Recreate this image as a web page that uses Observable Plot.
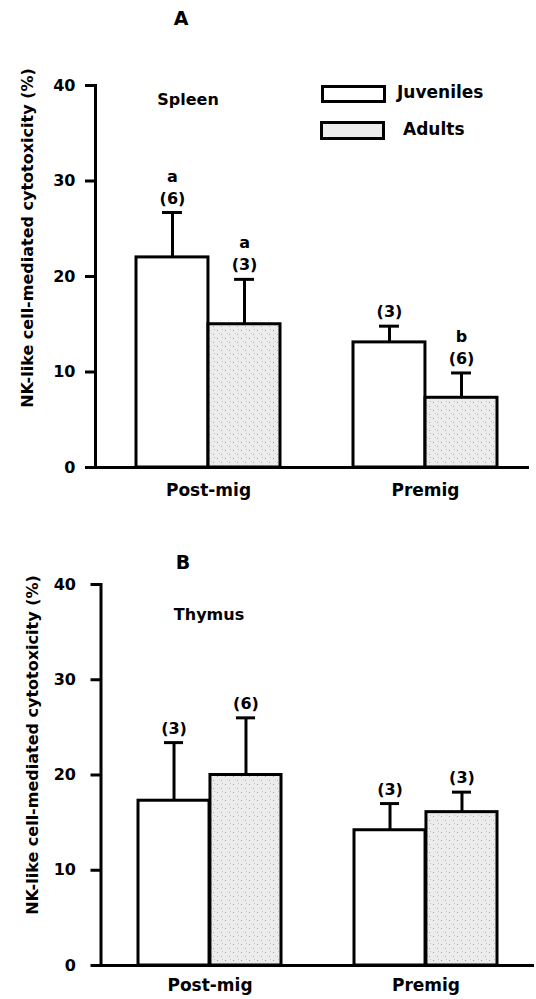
<!DOCTYPE html>
<html><head><meta charset="utf-8">
<script src="https://cdn.jsdelivr.net/npm/d3@7"></script>
<script src="https://cdn.jsdelivr.net/npm/@observablehq/plot@0.6"></script>
<style>
body{margin:0;background:#fff;font-family:"DejaVu Sans",Verdana,sans-serif;font-weight:bold;color:#000}
#wrap{position:relative;width:536px;height:999px;overflow:hidden;background:#fff}
#wrap svg{position:absolute;left:0}
.abs{position:absolute;white-space:nowrap;line-height:1}
.c{transform:translate(-50%,-50%)}
.ylab{font-size:16px;transform:translate(-50%,-50%) rotate(-90deg)}
.box{position:absolute;border:3px solid #000;box-sizing:border-box}
</style></head><body>
<svg width="0" height="0" style="position:absolute"><defs>
<pattern id="stipple" width="8" height="8" patternUnits="userSpaceOnUse">
<rect width="8" height="8" fill="#ececec"/>
<rect x="1" y="2" width="1" height="1" fill="#9a9a9a"/>
<rect x="5" y="6" width="1" height="1" fill="#b0b0b0"/>
<rect x="6" y="1" width="1" height="1" fill="#c4c4c4"/>
<rect x="3" y="5" width="1" height="1" fill="#d0d0d0"/>
</pattern></defs></svg>
<div id="wrap"></div>
<script>
// ---- data ----
const categories = ["Post-mig", "Premig"];
const series = ["Juveniles", "Adults"];
const yTicks = [0, 10, 20, 30, 40];

// Panel A: Spleen (mean and mean+SE)
const spleenJuvMean   = [22.0, 13.1];
const spleenJuvUpper  = [26.7, 14.8];
const spleenJuvN      = [6, 3];
const spleenJuvLetter = ["a", ""];
const spleenAdMean    = [15.0, 7.3];
const spleenAdUpper   = [19.7, 9.9];
const spleenAdN       = [3, 6];
const spleenAdLetter  = ["a", "b"];

// Panel B: Thymus
const thymusJuvMean   = [17.3, 14.2];
const thymusJuvUpper  = [23.4, 17.0];
const thymusJuvN      = [3, 3];
const thymusJuvLetter = ["", ""];
const thymusAdMean    = [20.0, 16.1];
const thymusAdUpper   = [26.0, 18.2];
const thymusAdN       = [6, 3];
const thymusAdLetter  = ["", ""];

function rowsOf(mean, upper, n, letter, s) {
  return categories.map((c, i) => ({cat: c, series: s, mean: mean[i], upper: upper[i], n: n[i], letter: letter[i]}));
}

function makePanel({juv, ad, height, marginTop, marginBottom, marginLeft, marginRight, align, xPad, yPad, axisExt}) {
  const width = 536, pi = 0.336, po = 0.168, cap = 20, sw = 3;
  const step = (width - marginLeft - marginRight) / (categories.length - pi + 2 * po);
  const bw = step * (1 - pi);
  const q = bw / 4;
  const lineStyle = {stroke: "black", strokeWidth: sw};
  const textStyle = {fontSize: 16, fontWeight: "bold", fill: "black"};
  return Plot.plot({
    width, height, marginTop, marginBottom, marginLeft, marginRight,
    style: {fontFamily: "DejaVu Sans", fontWeight: "bold", fontSize: "16px", color: "#000", background: "transparent", overflow: "visible"},
    x: {domain: categories, paddingInner: pi, paddingOuter: po, align},
    y: {domain: [0, 40]},
    marks: [
      Plot.barY(juv, {x: "cat", y: "mean", fill: "white", ...lineStyle, insetRight: bw / 2}),
      Plot.barY(ad, {x: "cat", y: "mean", fill: "url(#stipple)", ...lineStyle, insetLeft: bw / 2}),
      Plot.ruleX(juv, {x: "cat", y1: "mean", y2: "upper", dx: -q, ...lineStyle}),
      Plot.ruleX(ad, {x: "cat", y1: "mean", y2: "upper", dx: q, ...lineStyle}),
      Plot.tickY(juv, {x: "cat", y: "upper", insetLeft: q - cap / 2, insetRight: 3 * q - cap / 2, ...lineStyle}),
      Plot.tickY(ad, {x: "cat", y: "upper", insetLeft: 3 * q - cap / 2, insetRight: q - cap / 2, ...lineStyle}),
      Plot.text(juv, {x: "cat", y: "upper", text: d => `(${d.n})`, dx: -q, dy: -14, ...textStyle}),
      Plot.text(ad, {x: "cat", y: "upper", text: d => `(${d.n})`, dx: q, dy: -14, ...textStyle}),
      Plot.text(juv, {x: "cat", y: "upper", text: "letter", dx: -q, dy: -36, ...textStyle}),
      Plot.text(ad, {x: "cat", y: "upper", text: "letter", dx: q, dy: -36, ...textStyle}),
      Plot.ruleY([0], {...lineStyle, insetLeft: -axisExt}),
      Plot.frame({anchor: "left", ...lineStyle}),
      Plot.axisY({ticks: yTicks, tickSize: 10, tickPadding: yPad, fontSize: 16, fontWeight: "bold", strokeWidth: sw, label: null}),
      Plot.axisX({tickSize: 0, tickPadding: xPad, fontSize: 17, fontWeight: "bold", label: null})
    ]
  });
}

const wrap = document.getElementById("wrap");

const svgA = makePanel({
  juv: rowsOf(spleenJuvMean, spleenJuvUpper, spleenJuvN, spleenJuvLetter, series[0]),
  ad: rowsOf(spleenAdMean, spleenAdUpper, spleenAdN, spleenAdLetter, series[1]),
  height: 510, marginTop: 85, marginBottom: 43, marginLeft: 95, marginRight: 7, align: 0.56, xPad: 16, yPad: 10, axisExt: 9
});
svgA.style.top = "0px";
wrap.appendChild(svgA);

const svgB = makePanel({
  juv: rowsOf(thymusJuvMean, thymusJuvUpper, thymusJuvN, thymusJuvLetter, series[0]),
  ad: rowsOf(thymusAdMean, thymusAdUpper, thymusAdN, thymusAdLetter, series[1]),
  height: 489, marginTop: 74, marginBottom: 34, marginLeft: 100.5, marginRight: 2, align: 0.5, xPad: 13, yPad: 15, axisExt: 8
});
svgB.style.top = "510px";
wrap.appendChild(svgB);

function addText(txt, x, y, size, cls) {
  const d = document.createElement("div");
  d.className = "abs " + (cls || "c");
  d.style.left = x + "px"; d.style.top = y + "px";
  if (size) d.style.fontSize = size + "px";
  d.textContent = txt;
  wrap.appendChild(d);
  return d;
}
function addBox(x, y, w, h, bg) {
  const d = document.createElement("div");
  d.className = "box";
  Object.assign(d.style, {left: x + "px", top: y + "px", width: w + "px", height: h + "px", background: bg});
  wrap.appendChild(d);
}

addText("A", 181, 18, 19);
addText("Spleen", 188, 100, 16);
addText("B", 183, 562, 19);
addText("Thymus", 209, 615, 16);
addText("NK-like cell-mediated cytotoxicity (%)", 28, 238, null, "ylab");
addText("NK-like cell-mediated cytotoxicity (%)", 33, 745, null, "ylab");

// legend
addBox(321, 85, 65, 18, "#fff");
addText(series[0], 397, 92, 17, "").style.transform = "translateY(-50%)";
addBox(320, 121, 65, 19, "#ececec");
addText(series[1], 403, 129, 17, "").style.transform = "translateY(-50%)";
</script>
</body></html>
